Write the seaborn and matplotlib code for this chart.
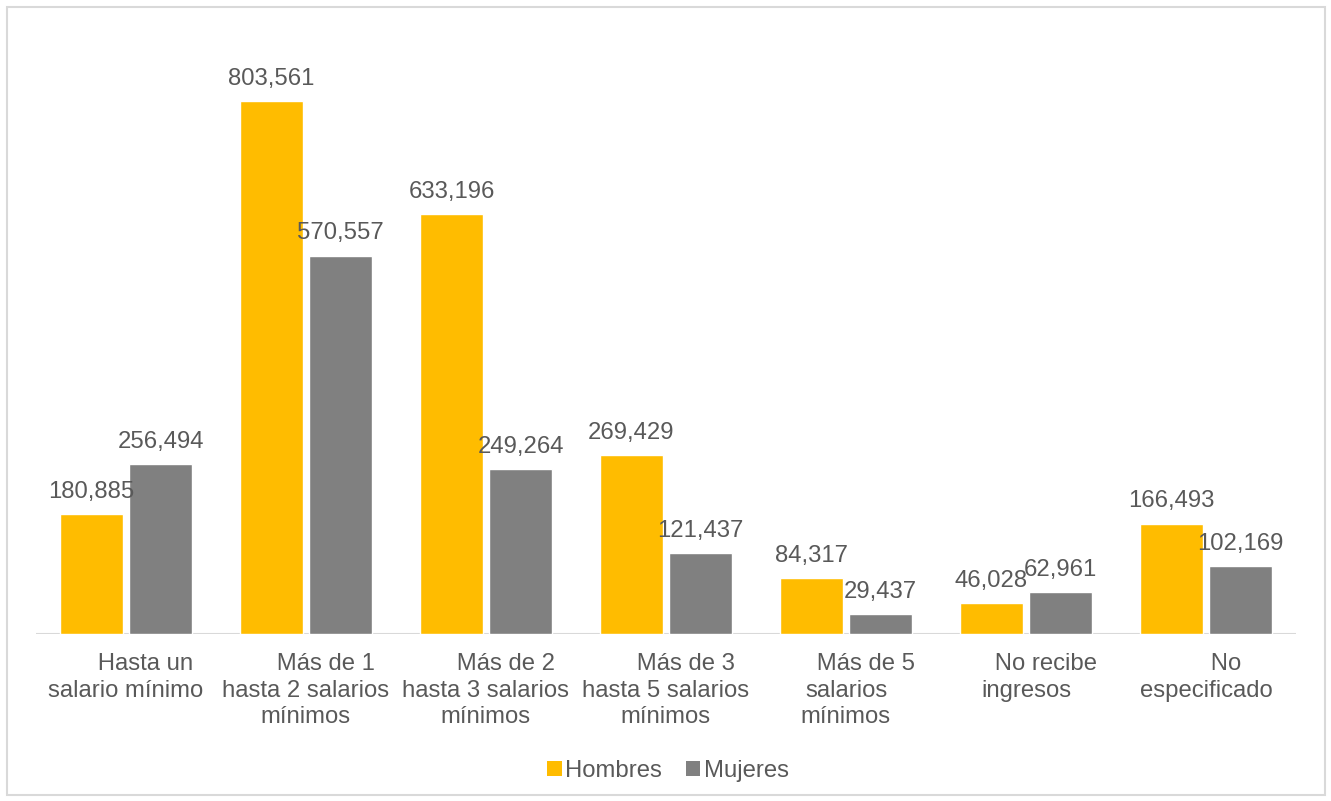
import matplotlib
matplotlib.use("Agg")
import matplotlib.pyplot as plt
from matplotlib.patches import Rectangle, Patch
import seaborn as sns
import pandas as pd

categorias = ["Hasta un salario mínimo", "Más de 1 hasta 2 salarios mínimos",
              "Más de 2 hasta 3 salarios mínimos", "Más de 3 hasta 5 salarios mínimos",
              "Más de 5 salarios mínimos", "No recibe ingresos", "No especificado"]
etiquetas = ["      Hasta un\nsalario mínimo", "      Más de 1\nhasta 2 salarios\nmínimos",
             "      Más de 2\nhasta 3 salarios\nmínimos", "      Más de 3\nhasta 5 salarios\nmínimos",
             "      Más de 5\nsalarios\nmínimos", "      No recibe\ningresos", "      No\nespecificado"]
hombres = [180885, 803561, 633196, 269429, 84317, 46028, 166493]
mujeres = [256494, 570557, 249264, 121437, 29437, 62961, 102169]
series = ["Hombres", "Mujeres"]
colores = ["#FFBC00", "#808080"]

df = pd.DataFrame({
    "categoria": categorias * 2,
    "serie": [series[0]] * len(categorias) + [series[1]] * len(categorias),
    "valor": hombres + mujeres,
})

sns.set_theme(style="white")
plt.rcParams["font.family"] = ["Liberation Sans", "DejaVu Sans"]
TXT = "#595959"
FS = 17.2

W, H = 1331, 801
fig = plt.figure(figsize=(W / 100, H / 100), dpi=100)
ax = fig.add_axes([36 / W, (H - 634) / H, (1296 - 36) / W, (634 - 37) / H])

sns.barplot(data=df, x="categoria", y="valor", hue="serie", order=categorias,
            hue_order=series, palette=colores, width=0.767, gap=0.10,
            saturation=1, ax=ax, legend=False)

for cont in ax.containers:
    ax.bar_label(cont, labels=[f"{int(b.get_height()):,}" for b in cont],
                 padding=8, fontsize=FS, color=TXT)

ax.set_xlim(-0.5, 6.5)
ax.set_ylim(0, 900000)
ax.set_yticks([])
ax.set_xticks(range(len(categorias)))
ax.set_xticklabels(etiquetas, fontsize=FS, color=TXT, linespacing=1.25)
ax.tick_params(axis="x", length=0, pad=14)
ax.set_xlabel("")
ax.set_ylabel("")
for s in ax.spines.values():
    s.set_visible(False)
ax.axhline(0, color="#D9D9D9", lw=1.5, zorder=0)

handles = [Patch(facecolor=c, edgecolor="none") for c in colores]
fig.legend(handles, series, loc="center", bbox_to_anchor=(668 / W, (H - 771) / H),
           ncol=2, frameon=False, fontsize=FS, labelcolor=TXT,
           handlelength=0.6, handleheight=0.6, handletextpad=0.15, columnspacing=1.0)

fig.patches.append(Rectangle((7 / W, 6 / H), (1325 - 7) / W, (795 - 7) / H,
                             transform=fig.transFigure, fill=False,
                             edgecolor="#D9D9D9", lw=1.5))

fig.savefig("out.png", dpi=100)
